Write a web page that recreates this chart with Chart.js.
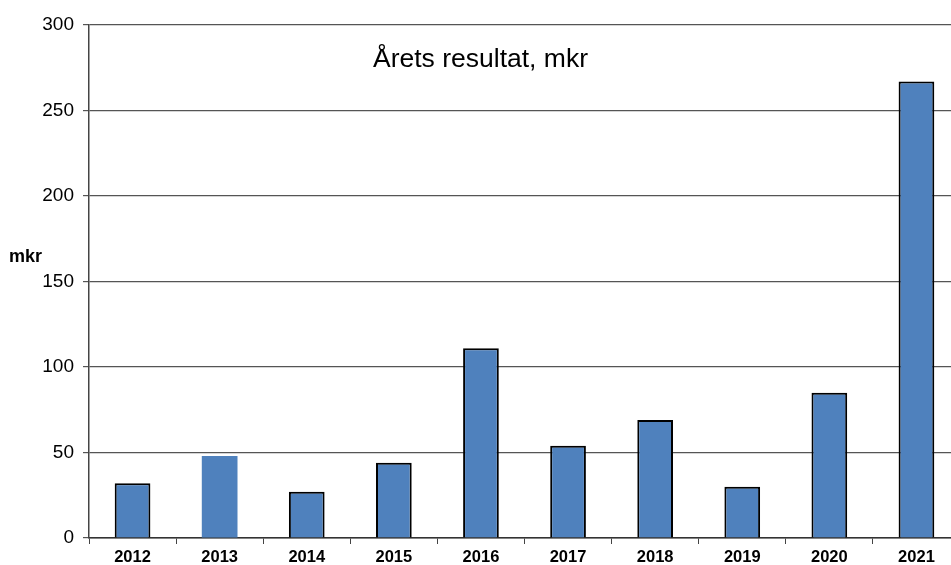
<!DOCTYPE html>
<html>
<head>
<meta charset="utf-8">
<script src="https://cdn.jsdelivr.net/npm/chart.js@4"></script>
<style>
  html, body { margin: 0; padding: 0; background: #fff; overflow: hidden; }
  #wrap { width: 960px; height: 565px; }
</style>
</head>
<body>
<div id="wrap"><canvas id="resultChart" width="960" height="565"></canvas></div>
<script>
const years = ["2012", "2013", "2014", "2015", "2016", "2017", "2018", "2019", "2020", "2021"];
const resultat = [32, 48, 27, 44, 111, 54, 69, 30, 85, 267];
const borderWidths = [2, 0, 2, 2, 2, 2, 2, 2, 2, 2];
const yTicks = [0, 50, 100, 150, 200, 250, 300];

const fontFam = "'Liberation Sans', Arial, sans-serif";

// titel och enhet ritas som fri text
const textPlugin = {
  id: "fritext",
  afterDraw(chart) {
    const ctx = chart.ctx;
    ctx.save();
    ctx.fillStyle = "#000";
    ctx.textBaseline = "middle";
    ctx.textAlign = "left";
    ctx.font = "26.5px " + fontFam;
    ctx.fillText("Årets resultat, mkr", 373, 60);
    ctx.font = "bold 18px " + fontFam;
    ctx.fillText("mkr", 9, 257);
    ctx.restore();
  }
};

new Chart(document.getElementById("resultChart").getContext("2d"), {
  type: "bar",
  data: {
    labels: years,
    datasets: [{
      label: "Årets resultat",
      data: resultat,
      backgroundColor: "#4F81BD",
      borderColor: "#000",
      borderWidth: borderWidths,
      barPercentage: 0.41,
      categoryPercentage: 1
    }]
  },
  options: {
    responsive: false,
    animation: false,
    layout: { padding: { top: 25, right: 0, bottom: 0, left: 0 } },
    plugins: {
      legend: { display: false },
      tooltip: { enabled: false }
    },
    scales: {
      x: {
        afterFit(scale) { scale.height = 27; },
        grid: {
          drawOnChartArea: false,
          drawTicks: true,
          tickLength: 6,
          color: "#444",
          offset: true
        },
        border: { color: "#333", width: 1.5 },
        ticks: {
          color: "#000",
          padding: 4,
          font: { family: fontFam, size: 16.5, weight: "bold" }
        }
      },
      y: {
        min: 0,
        max: 300,
        afterFit(scale) { scale.width = 89; },
        afterBuildTicks(scale) { scale.ticks = yTicks.map(v => ({ value: v })); },
        grid: {
          color: "#555",
          lineWidth: 1.2,
          tickLength: 6
        },
        border: { color: "#444", width: 1.5 },
        ticks: {
          color: "#000",
          padding: 9,
          font: { family: fontFam, size: 19 }
        }
      }
    }
  },
  plugins: [textPlugin]
});
</script>
</body>
</html>
